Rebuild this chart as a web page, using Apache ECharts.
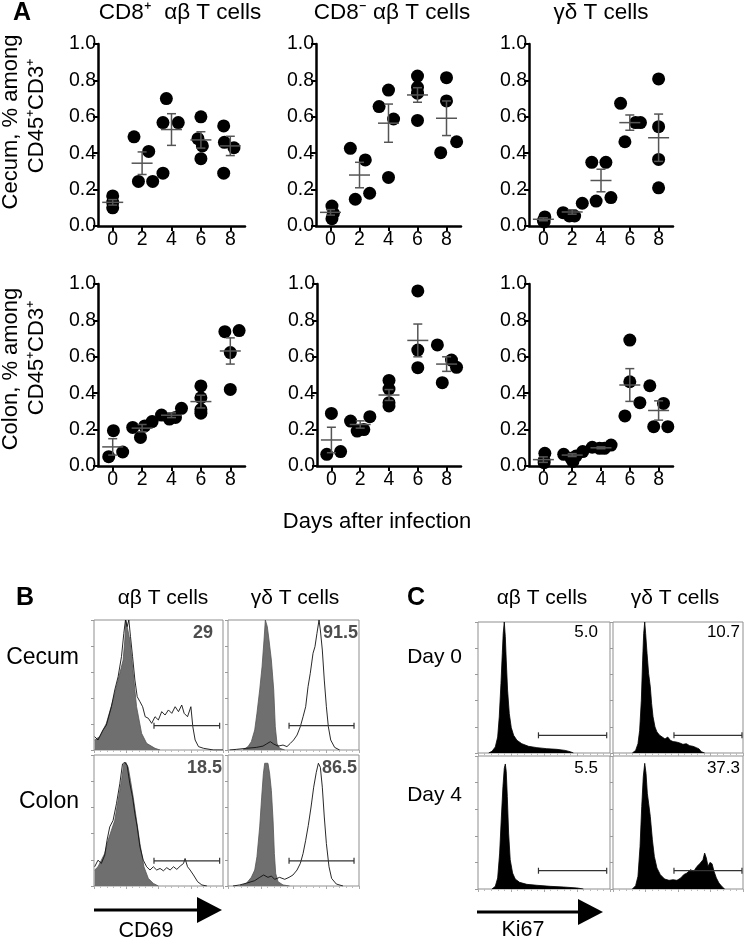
<!DOCTYPE html>
<html><head><meta charset="utf-8">
<script src="https://cdn.jsdelivr.net/npm/echarts@6/dist/echarts.min.js"></script>
<style>html,body{margin:0;padding:0;background:#fff}#c{width:746px;height:940px}</style>
</head><body><div id="c"></div>
<script>
// ---------- Panel A data ----------
const dayTicks = [0, 2, 4, 6, 8];
const yTicks = [0, 0.2, 0.4, 0.6, 0.8, 1.0];
// individual mice [day (jittered as drawn), fraction]
const cecumCD8pos = [[0,0.165],[0,0.13],[0,0.10],[1.45,0.49],[2.45,0.41],[1.75,0.245],[2.72,0.245],
  [3.65,0.70],[3.42,0.568],[4.46,0.568],[3.42,0.29],[6,0.60],[5.8,0.48],[6.1,0.44],[6,0.37],
  [7.55,0.55],[7.6,0.46],[8.25,0.43],[7.55,0.29]];
const cecumCD8neg = [[0.1,0.11],[0.2,0.07],[0.1,0.04],[1.37,0.427],[2.4,0.363],[1.71,0.147],[2.7,0.18],
  [3.35,0.656],[4,0.747],[4.35,0.588],[4,0.267],[6,0.824],[6,0.762],[6,0.73],[6,0.58],
  [8,0.815],[8,0.687],[7.6,0.403],[8.7,0.463]];
const cecumGD = [[0.1,0.05],[0,0.03],[0.05,0.022],[1.37,0.073],[1.8,0.055],[2.17,0.055],[2.7,0.125],
  [3.36,0.35],[4.34,0.35],[3.66,0.137],[4.69,0.156],[5.36,0.674],[5.66,0.463],[6.4,0.568],[6.74,0.568],
  [8,0.808],[8,0.546],[8,0.366],[8,0.21]];
const colonCD8pos = [[0.05,0.194],[-0.27,0.051],[0.68,0.077],[1.36,0.212],[1.89,0.157],[2.18,0.22],[2.68,0.244],
  [3.32,0.28],[3.86,0.258],[4.27,0.267],[4.68,0.317],[6,0.44],[6,0.375],[6,0.31],[6,0.29],
  [7.63,0.738],[8.6,0.744],[8,0.623],[8,0.421]];
const colonCD8neg = [[0,0.289],[-0.32,0.064],[0.64,0.079],[1.33,0.247],[1.79,0.192],[2.25,0.2],[2.67,0.271],
  [4,0.47],[4,0.423],[4,0.348],[4,0.33],[6,0.962],[6,0.637],[6,0.54],
  [7.36,0.665],[7.7,0.458],[8.34,0.582],[8.69,0.542]];
const colonGD = [[0.1,0.07],[0.05,0.018],[0.05,0.03],[1.41,0.064],[1.93,0.042],[2.27,0.055],[2.73,0.079],[2.05,0.025],
  [3.39,0.103],[3.9,0.097],[4.24,0.097],[4.7,0.115],[6,0.692],[6,0.463],[6.7,0.348],[5.66,0.275],
  [7.39,0.441],[8.34,0.344],[7.66,0.216],[8.64,0.216]];
// mean and SEM per day
const cecumCD8posMean = [0.13, 0.345, 0.53, 0.473, 0.44];
const cecumCD8posSem  = [0.015, 0.062, 0.087, 0.045, 0.053];
const cecumCD8negMean = [0.075, 0.28, 0.565, 0.72, 0.592];
const cecumCD8negSem  = [0.015, 0.07, 0.105, 0.04, 0.095];
const cecumGDMean = [0.037, 0.077, 0.25, 0.568, 0.485];
const cecumGDSem  = [0.008, 0.012, 0.062, 0.042, 0.13];
const colonCD8posMean = [0.105, 0.208, 0.279, 0.354, 0.632];
const colonCD8posSem  = [0.045, 0.02, 0.013, 0.035, 0.072];
const colonCD8negMean = [0.143, 0.228, 0.39, 0.69, 0.56];
const colonCD8negSem  = [0.07, 0.02, 0.03, 0.09, 0.04];
const colonGDMean = [0.035, 0.06, 0.1, 0.445, 0.305];
const colonGDSem  = [0.015, 0.008, 0.005, 0.09, 0.053];

// ---------- Panel B data (CD69 histograms, % of axis range / % of modal max) ----------
const bCecumAbIso = [[0.5,7.7],[4.4,10.3],[9.6,20.5],[14.8,38.5],[18.7,53.8],[22.6,69.2],[23.9,84.6],[24.7,100],[26,98.7],[27.8,84.6],[30.4,59],[33,33.3],[36.9,12.8],[40.8,5.1],[47.3,1.3],[51.2,0]];
const bCecumAbCD69 = [[0.5,10.3],[3.1,7.7],[7,15.4],[9.6,19.2],[13.5,33.3],[16.1,46.2],[18.7,56.4],[21.3,71.8],[23.1,89.7],[24.4,100],[25.7,94.9],[27,100],[28.3,87.2],[29.9,71.8],[31.7,53.8],[33.5,41],[35.6,37.2],[37.7,33.3],[39.7,25.6],[42.1,24.4],[44.7,20.5],[47.3,25.6],[49.9,23.1],[52.5,29.5],[55.1,26.9],[57.7,30.8],[60.3,28.2],[62.9,33.3],[65.5,29.5],[68,34.6],[69.9,28.2],[72.5,25.6],[75.1,33.3],[76.6,17.9],[78.4,7.7],[81,2.6],[84.9,1.3],[92.7,0],[100,0]];
const bCecumGdIso = [[11.5,0],[15.3,2.6],[17.8,6.4],[20.4,15.4],[22.1,28.2],[24.2,46.2],[26,64.1],[27.5,84.6],[28.5,100],[30,94.9],[31.3,84.6],[33.1,69.2],[34.9,46.2],[36.1,17.9],[37.4,5.1],[39.4,1.3],[43.3,0]];
const bCecumGdCD69 = [[1.3,0],[6.4,0.5],[14,1.3],[21.6,2],[26.7,3],[29.3,4.6],[32.3,6.4],[34.9,4.6],[38.2,3],[42,3.8],[45,2.6],[47.6,5.1],[50.1,7.7],[52.7,11.5],[55.2,17.9],[57.3,25.6],[59.3,33.3],[61.1,48.7],[62.8,59],[64.9,74.4],[66.4,79.5],[67.9,89.7],[69.5,100],[70.5,92.3],[72,76.9],[73.5,53.8],[75.1,33.3],[76.6,17.9],[78.4,7.7],[81.4,2],[85.2,0]];
const bColonAbIso = [[0.5,12.2],[3.1,14.7],[5.7,19.7],[8.3,24.8],[10.9,34.9],[13.5,42.5],[16.1,50.1],[18.7,65.3],[21.3,80.5],[23.1,93.2],[24.7,94.4],[26.5,90.6],[28.3,80.5],[30.4,67.8],[33,50.1],[35.6,32.4],[38.7,14.7],[42.1,5.8],[46,2],[49.9,0]];
const bColonAbCD69 = [[0.5,14.7],[3.1,19.7],[5.7,17.2],[8.3,23.5],[10.1,34.9],[12.2,45.1],[14.8,50.1],[17.4,62.8],[20,78],[22.1,93.2],[23.9,94.4],[25.7,91.9],[27.8,78],[29.9,67.8],[31.7,55.2],[33.5,45.1],[35.6,29.9],[38.2,19.7],[40.8,14.7],[43.4,12.2],[46,14.7],[48.6,12.2],[51.2,13.4],[53.8,11.6],[56.4,14],[59,12.2],[61.6,14.7],[64.2,12.7],[66.8,15.2],[69.4,17.2],[70.6,21],[72.5,14.7],[74.5,12.2],[77.1,8.4],[80.3,3.3],[83.6,0.8],[87.5,0]];
const bColonGdIso = [[8.9,0],[14,2],[17.8,6.6],[20.4,12.2],[22.1,22.3],[24.2,45.1],[25.7,67.8],[27,85.6],[28,93.7],[29.3,92.7],[30.5,93.7],[31.8,85.6],[33.1,72.9],[34.4,50.1],[35.4,24.8],[36.4,9.6],[38.2,3.3],[42,0.8],[47,0]];
const bColonGdCD69 = [[3.8,0],[8.9,0.8],[15.3,2.5],[20.4,4.1],[24.2,6.6],[27.2,8.4],[30.5,6.6],[33.1,7.6],[35.6,5.1],[39.4,6.6],[43.3,5.1],[46.6,6.6],[49.6,8.4],[52.7,12.2],[55.2,17.2],[57.3,24.8],[59.3,34.9],[61.3,46.3],[63.4,60.3],[65.4,75.4],[67.4,86.8],[69,93.7],[70.5,90.6],[72,75.4],[73.5,52.7],[75.1,32.4],[77.1,14.7],[79.1,5.8],[82.7,1.5],[87.8,0]];
const bPercent = ['29', '91.5', '18.5', '86.5'];
const bGateX = [[46.5, 97.4], [46.6, 96.2]];
const bGateY = [18.7, 18.7, 19.2, 19.2];

// ---------- Panel C data (Ki67 histograms) ----------
const cDay0Ab = [[8.1,0],[10.6,1.3],[13.1,4.6],[14.9,12.2],[16.1,27.6],[17.4,53.1],[18.4,76],[19.1,91.3],[19.9,100],[20.7,88.8],[21.4,70.9],[22.4,48],[23.7,30.1],[25.2,19.4],[27,13.5],[29.5,9.7],[33.2,7.1],[38.3,5.1],[44.6,4.1],[52.1,3.3],[59.7,2.8],[66,2],[69.8,1],[72.3,0]];
const cDay0Gd = [[14.9,0],[17.4,2],[19.2,7.1],[20.5,17.3],[21.8,40.3],[22.8,70.9],[23.6,91.3],[24.4,100],[25.1,91.3],[26.2,76],[27.4,60.7],[28.7,50.5],[29.7,37.8],[30.8,27.6],[32.3,19.9],[33.8,16.1],[35.9,13.5],[37.9,12.2],[40,10.7],[42.1,12.2],[44.1,9.7],[46.2,8.7],[48.7,8.4],[51.3,7.7],[53.8,6.6],[56.4,7.1],[59,5.6],[61.5,5.1],[64.1,4.1],[66.2,3.1],[67.9,1],[70.5,0]];
const cDay4Ab = [[10.6,0],[13.1,2],[14.9,8.3],[16.4,27],[17.6,52],[18.9,77],[19.9,90.8],[20.7,94],[21.4,88.3],[22.2,69.5],[23.2,42],[24.4,22],[26.2,12],[28.2,7.5],[31.5,5],[37,3.5],[44.6,2.8],[54.7,2],[64.7,1.5],[74.8,0.8],[79.8,0]];
const cDay4Gd = [[14.9,0],[17.4,2.5],[19.2,9.5],[20.8,32],[22.1,62],[23.3,84.5],[24.4,94.5],[25.4,87],[26.4,72],[27.4,64.5],[28.7,54.5],[30.3,37],[31.8,24.5],[33.8,15.8],[36.4,10.8],[39.7,7.5],[43.1,6.5],[46.2,7],[49.2,6.5],[52.1,8.3],[54.4,10.8],[56.9,12],[59.5,14.5],[62.1,13.3],[64.6,17],[67.2,19.5],[69.2,22],[70.5,27],[71.8,23.3],[73.1,17],[74.6,20],[76.2,19],[77.7,13.3],[79.5,8.3],[81.5,4.5],[84.1,1.5],[85.9,0]];
const cPercent = ['5.0', '10.7', '5.5', '37.3'];
const cGateX = [[45.8, 97.5], [46.9, 99.2]];
const cGateY = [13.5, 13.5, 13.75, 13.75];

// ---------- build ----------
const FF = '"Liberation Sans", Arial, Helvetica, sans-serif';
const grids = [], xAxes = [], yAxes = [], series = [];

const aPanels = [
  {pts: cecumCD8pos, mean: cecumCD8posMean, sem: cecumCD8posSem, box: [98, 44, 147, 182]},
  {pts: cecumCD8neg, mean: cecumCD8negMean, sem: cecumCD8negSem, box: [316, 44, 145, 182]},
  {pts: cecumGD, mean: cecumGDMean, sem: cecumGDSem, box: [529, 44, 144, 182]},
  {pts: colonCD8pos, mean: colonCD8posMean, sem: colonCD8posSem, box: [98, 284, 147, 182]},
  {pts: colonCD8neg, mean: colonCD8negMean, sem: colonCD8negSem, box: [317, 284, 144, 182]},
  {pts: colonGD, mean: colonGDMean, sem: colonGDSem, box: [529, 284, 144, 182]}
];
aPanels.forEach((p, i) => {
  const [l, t, w, h] = p.box;
  grids.push({left: l, top: t, width: w, height: h, containLabel: false});
  xAxes.push({type: 'value', gridIndex: i, min: -1, max: 9,
    axisLine: {show: true, onZero: false, lineStyle: {color: '#000', width: 2.5}},
    axisTick: {show: true, length: 5, lineStyle: {color: '#000', width: 2}, customValues: dayTicks},
    axisLabel: {fontSize: 19.5, color: '#000', fontFamily: FF, margin: 4, customValues: dayTicks},
    splitLine: {show: false}});
  yAxes.push({type: 'value', gridIndex: i, min: 0, max: 1, interval: 0.2,
    axisLine: {show: true, onZero: false, lineStyle: {color: '#000', width: 2.5}},
    axisTick: {show: true, length: 5, lineStyle: {color: '#000', width: 2}},
    axisLabel: {fontSize: 19.5, color: '#000', fontFamily: FF, margin: 2, formatter: v => v.toFixed(1)},
    splitLine: {show: false}});
  series.push({type: 'scatter', xAxisIndex: i, yAxisIndex: i, data: p.pts, symbolSize: 13,
    itemStyle: {color: '#000', opacity: 1}, z: 2, silent: true});
  series.push({type: 'custom', xAxisIndex: i, yAxisIndex: i, z: 3, silent: true,
    data: dayTicks.map((d, k) => [d, p.mean[k], p.sem[k]]),
    renderItem: (params, api) => {
      const x = api.value(0), m = api.value(1), s = api.value(2);
      const c = api.coord([x, m]), tp = api.coord([x, m + s]), bt = api.coord([x, m - s]);
      const st = {stroke: '#555', lineWidth: 1.5};
      return {type: 'group', children: [
        {type: 'line', shape: {x1: c[0] - 10.5, y1: c[1], x2: c[0] + 10.5, y2: c[1]}, style: st},
        {type: 'line', shape: {x1: c[0], y1: tp[1], x2: c[0], y2: bt[1]}, style: st},
        {type: 'line', shape: {x1: c[0] - 4.5, y1: tp[1], x2: c[0] + 4.5, y2: tp[1]}, style: st},
        {type: 'line', shape: {x1: c[0] - 4.5, y1: bt[1], x2: c[0] + 4.5, y2: bt[1]}, style: st}
      ]};
    }});
});

function gateSeries(gi, x1, x2, y) {
  series.push({type: 'custom', xAxisIndex: gi, yAxisIndex: gi, z: 5, silent: true,
    data: [[x1, x2, y]],
    renderItem: (params, api) => {
      const a = api.coord([api.value(0), api.value(2)]), b = api.coord([api.value(1), api.value(2)]);
      const st = {stroke: '#333', lineWidth: 1.2};
      return {type: 'group', children: [
        {type: 'line', shape: {x1: a[0], y1: a[1], x2: b[0], y2: b[1]}, style: st},
        {type: 'line', shape: {x1: a[0], y1: a[1] - 3, x2: a[0], y2: a[1] + 3}, style: st},
        {type: 'line', shape: {x1: b[0], y1: b[1] - 3, x2: b[0], y2: b[1] + 3}, style: st}
      ]};
    }});
}

function histGrid(box) {
  const gi = grids.length;
  const [l, t, w, h] = box;
  grids.push({left: l, top: t, width: w, height: h, show: true, borderColor: '#8f8f8f', borderWidth: 1, backgroundColor: '#fff'});
  xAxes.push({type: 'value', gridIndex: gi, min: 0, max: 100, interval: 25,
    axisLine: {show: false}, axisLabel: {show: false}, splitLine: {show: false},
    axisTick: {show: true, length: 3, lineStyle: {color: '#aaa', width: 1}},
    minorTick: {show: true, splitNumber: 5, length: 2, lineStyle: {color: '#bbb'}}});
  yAxes.push({type: 'value', gridIndex: gi, min: 0, max: 100, interval: 20,
    axisLine: {show: false}, axisLabel: {show: false}, splitLine: {show: false},
    axisTick: {show: true, length: 3, lineStyle: {color: '#999', width: 1}}});
  return gi;
}

const bPanels = [
  {iso: bCecumAbIso, stim: bCecumAbCD69, box: [94, 620, 129, 130]},
  {iso: bCecumGdIso, stim: bCecumGdCD69, box: [228, 620, 131, 130]},
  {iso: bColonAbIso, stim: bColonAbCD69, box: [94, 755, 129, 131]},
  {iso: bColonGdIso, stim: bColonGdCD69, box: [228, 755, 131, 131]}
];
bPanels.forEach((p, k) => {
  const gi = histGrid(p.box);
  series.push({type: 'line', xAxisIndex: gi, yAxisIndex: gi, data: p.iso, symbol: 'none', silent: true, z: 2,
    lineStyle: {color: '#555', width: 0.8}, areaStyle: {color: '#6f6f6f', opacity: 1}});
  series.push({type: 'line', xAxisIndex: gi, yAxisIndex: gi, data: p.stim, symbol: 'none', silent: true, z: 3,
    lineStyle: {color: '#111', width: 0.9}});
  gateSeries(gi, bGateX[k % 2][0], bGateX[k % 2][1], bGateY[k]);
});

const cPanels = [
  {h: cDay0Ab, box: [478, 622, 132, 131]},
  {h: cDay0Gd, box: [613, 622, 130, 131]},
  {h: cDay4Ab, box: [478, 756, 132, 133]},
  {h: cDay4Gd, box: [613, 756, 130, 133]}
];
cPanels.forEach((p, k) => {
  const gi = histGrid(p.box);
  series.push({type: 'line', xAxisIndex: gi, yAxisIndex: gi, data: p.h, symbol: 'none', silent: true, z: 2,
    lineStyle: {color: '#000', width: 0.8}, areaStyle: {color: '#000', opacity: 1}});
  gateSeries(gi, cGateX[k % 2][0], cGateX[k % 2][1], cGateY[k]);
});

// ---------- text and annotations ----------
function txt(text, x, y, size, o) {
  o = o || {};
  return {type: 'text', x: x, y: y, rotation: o.rot || 0, z: 10, silent: true,
    style: {text: text, x: 0, y: 0, font: (o.weight || 'normal') + ' ' + size + 'px ' + FF,
      fill: o.color || '#000', align: o.align || 'center', textAlign: o.align || 'center',
      verticalAlign: 'middle', textVerticalAlign: 'middle'}};
}
const g = [];
g.push(txt('A', 13, 13, 25, {weight: 'bold', align: 'left'}));
g.push(txt('CD8\u207A  \u03B1\u03B2 T cells', 180, 13, 22.5));
g.push(txt('CD8\u207B \u03B1\u03B2 T cells', 392, 13, 22.5));
g.push(txt('\u03B3\u03B4 T cells', 601, 13, 22.5));
g.push(txt('Cecum, % among', 11, 122, 22, {rot: Math.PI / 2}));
g.push(txt('CD45\u207ACD3\u207A', 37, 116, 22, {rot: Math.PI / 2}));
g.push(txt('Colon, % among', 11, 369, 22, {rot: Math.PI / 2}));
g.push(txt('CD45\u207ACD3\u207A', 37, 358, 22, {rot: Math.PI / 2}));
g.push(txt('Days after infection', 377, 522, 22));

g.push(txt('B', 16, 598, 25, {weight: 'bold', align: 'left'}));
g.push(txt('\u03B1\u03B2 T cells', 163, 598, 21));
g.push(txt('\u03B3\u03B4 T cells', 295, 598, 21));
g.push(txt('Cecum', 79, 658, 23, {align: 'right'}));
g.push(txt('Colon', 79, 802, 23, {align: 'right'}));
g.push(txt(bPercent[0], 213, 633, 18, {align: 'right', weight: 'bold', color: '#4d4d4d'}));
g.push(txt(bPercent[1], 358, 633, 18, {align: 'right', weight: 'bold', color: '#4d4d4d'}));
g.push(txt(bPercent[2], 222, 768, 18, {align: 'right', weight: 'bold', color: '#4d4d4d'}));
g.push(txt(bPercent[3], 357, 768, 18, {align: 'right', weight: 'bold', color: '#4d4d4d'}));
g.push(txt('CD69', 146, 931, 21.5));

g.push(txt('C', 407, 598, 25, {weight: 'bold', align: 'left'}));
g.push(txt('\u03B1\u03B2 T cells', 542, 598, 21));
g.push(txt('\u03B3\u03B4 T cells', 675, 598, 21));
g.push(txt('Day 0', 462, 657, 21, {align: 'right'}));
g.push(txt('Day 4', 462, 795, 21, {align: 'right'}));
g.push(txt(cPercent[0], 598, 632, 17, {align: 'right'}));
g.push(txt(cPercent[1], 740, 632, 17, {align: 'right'}));
g.push(txt(cPercent[2], 598, 768, 17, {align: 'right'}));
g.push(txt(cPercent[3], 740, 768, 17, {align: 'right'}));
g.push(txt('Ki67', 523, 930, 21.5));

function arrow(x1, x2, y) {
  return {type: 'group', silent: true, children: [
    {type: 'rect', shape: {x: x1, y: y - 1.5, width: x2 - x1 - 22, height: 3}, style: {fill: '#000'}},
    {type: 'polygon', shape: {points: [[x2 - 25, y - 13], [x2, y], [x2 - 25, y + 13]]}, style: {fill: '#000'}}
  ]};
}
g.push(arrow(94, 222, 910));
g.push(arrow(477, 603, 912));

const chart = echarts.init(document.getElementById('c'), null, {renderer: 'canvas'});
chart.setOption({
  animation: false,
  backgroundColor: '#fff',
  grid: grids, xAxis: xAxes, yAxis: yAxes, series: series, graphic: g
});
</script></body></html>
